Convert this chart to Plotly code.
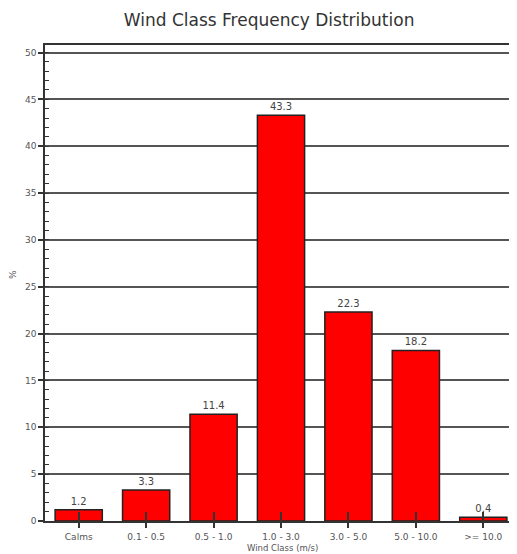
import plotly.graph_objects as go

categories = ["Calms", "0.1 - 0.5", "0.5 - 1.0", "1.0 - 3.0", "3.0 - 5.0", "5.0 - 10.0", ">= 10.0"]
values = [1.2, 3.3, 11.4, 43.3, 22.3, 18.2, 0.4]
labels = ["1.2", "3.3", "11.4", "43.3", "22.3", "18.2", "0.4"]

FONT = "DejaVu Sans"

fig = go.Figure()
fig.add_trace(go.Bar(
    x=categories, y=values, text=labels, textposition="outside",
    textfont=dict(size=10, color="#444", family=FONT),
    marker=dict(color="#ff0000", line=dict(color="#222", width=1.5)),
    cliponaxis=False, width=0.7, showlegend=False,
))
# invisible trace to carry the inside tick marks axis
fig.add_trace(go.Scatter(x=categories, y=values, xaxis="x2", mode="markers",
                         marker=dict(opacity=0), showlegend=False, hoverinfo="skip"))

fig.update_layout(
    width=509, height=546,
    margin=dict(l=37, r=0, t=37, b=33, autoexpand=False),
    paper_bgcolor="white", plot_bgcolor="white",
    title=dict(text="Wind Class Frequency Distribution", x=0.513, xanchor="center",
               y=0.978, yanchor="middle",
               font=dict(size=17, color="#333", family=FONT)),
    xaxis=dict(
        type="category", range=[-0.5, 6.5], automargin=False,
        showline=True, linecolor="#333", linewidth=1.5, mirror=True,
        ticks="outside", ticklen=5, tickwidth=1.5, tickcolor="#333",
        tickfont=dict(size=9, color="#555", family=FONT),
        ticklabelstandoff=1,
        showgrid=False,
    ),
    xaxis2=dict(
        type="category", overlaying="x", matches="x", side="bottom", automargin=False,
        showline=False, ticks="inside", ticklen=9, tickwidth=1.5, tickcolor="#333",
        showticklabels=False, showgrid=False,
    ),
    yaxis=dict(
        range=[0, 50.8], dtick=5, tick0=0, automargin=False,
        showline=True, linecolor="#333", linewidth=1.5,
        ticks="outside", ticklen=5, tickwidth=1.5, tickcolor="#333",
        tickfont=dict(size=9, color="#555", family=FONT),
        showgrid=True, gridcolor="#555", gridwidth=1.5,
        zeroline=False,
        minor=dict(dtick=1, ticks="inside", ticklen=4, tickwidth=1.2, tickcolor="#333", showgrid=False),
    ),
    annotations=[
        dict(text="Wind Class (m/s)", xref="paper", yref="paper", x=0.503, y=0,
             xanchor="center", yanchor="bottom", yshift=-33.5, showarrow=False,
             font=dict(size=8.5, color="#555", family=FONT)),
        dict(text="%", xref="paper", yref="paper", x=0, y=0.517, textangle=-90,
             xanchor="center", yanchor="middle", xshift=-32, showarrow=False,
             font=dict(size=9, color="#555", family=FONT)),
    ],
    bargap=0.3,
)

fig.write_html("out.html")
